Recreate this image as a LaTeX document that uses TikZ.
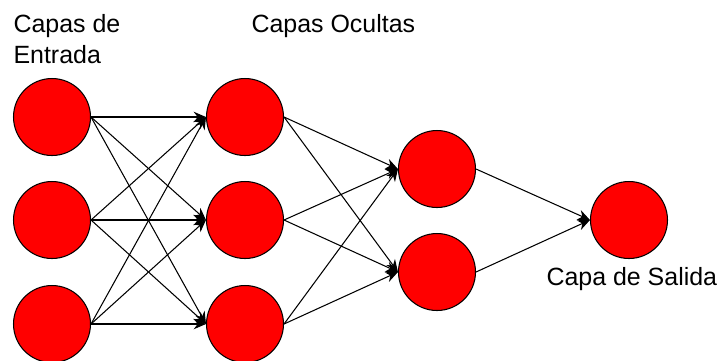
\documentclass[tikz,border=0pt]{standalone}
\usepackage{fontspec}
\setmainfont{Liberation Sans}
\usetikzlibrary{arrows.meta}

\begin{document}
\begin{tikzpicture}[x=0.02cm, y=-0.02cm, >={Stealth[length=7pt,width=6pt]}, semithick,
    neuron/.style={circle, draw, fill=red, minimum size=1.54cm, inner sep=0pt},
    capa/.style={font=\fontsize{14.2}{17.6}\selectfont, align=left, inner sep=0pt}]
    \useasboundingbox (0,0) rectangle (717,360);
    % neuronas
    \foreach \i/\y in {1/117,2/220,3/324}{
      \node[neuron] (in\i) at (52,\y) {};
      \node[neuron] (h\i) at (245,\y) {};
    }
    \node[neuron] (g1) at (437,169) {};
    \node[neuron] (g2) at (437,272) {};
    \node[neuron] (out) at (629,220) {};
    % conexiones
    \foreach \i in {1,2,3}{\foreach \j in {1,2,3}{\draw[->] (in\i.east)--(h\j.west);}}
    \foreach \i in {1,2,3}{\foreach \j in {1,2}{\draw[->] (h\i.east)--(g\j.west);}}
    \foreach \j in {1,2}{\draw[->] (g\j.east)--(out.west);}
    % textos
    \node[capa, anchor=north west] (tin) at (13,13.5) {Capas de\\Entrada};
    \node[capa, anchor=base west] (thid) at (251,32) {Capas Ocultas};
    \node[capa, anchor=base west] (tout) at (546,285) {Capa de Salida};
  \end{tikzpicture}
\end{document}
